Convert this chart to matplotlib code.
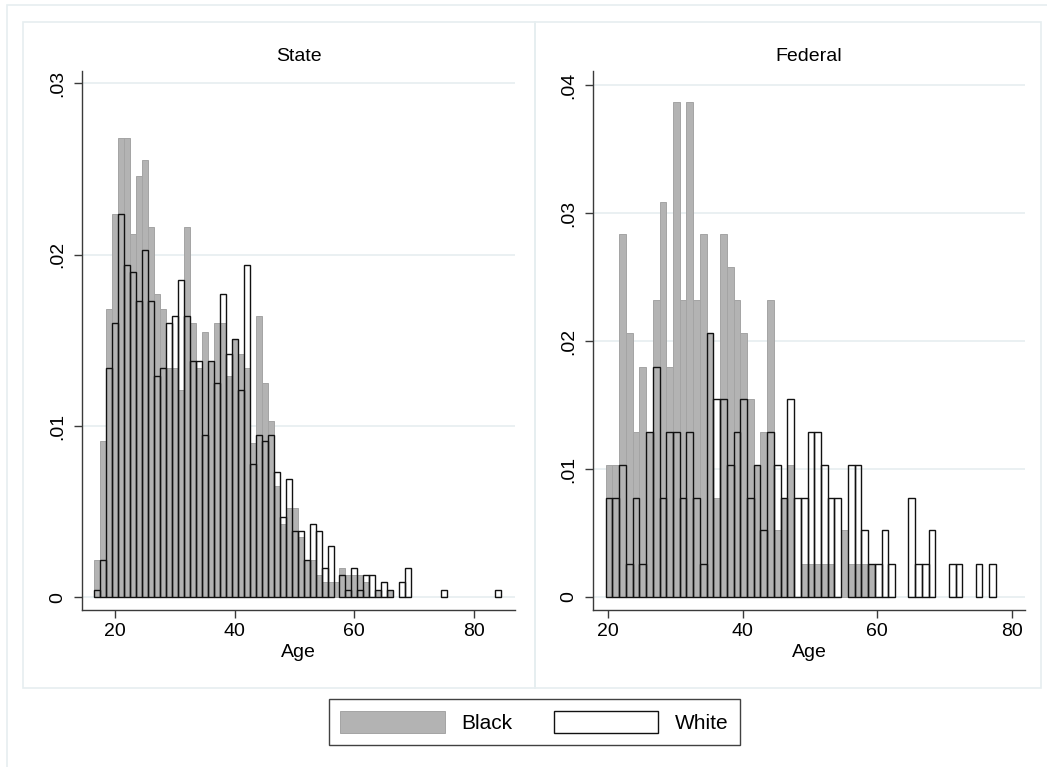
import matplotlib
matplotlib.use('Agg')
import matplotlib.pyplot as plt
from matplotlib.patches import Rectangle
import numpy as np

plt.rcParams['font.family'] = ['Liberation Sans', 'DejaVu Sans']

# ---- data (density per 1-year age bin) ----
state_ages = list(range(17, 85))
state_black = [0.0022, 0.0091, 0.0168, 0.0224, 0.0268, 0.0268, 0.0212, 0.0246,
               0.0255, 0.0216, 0.0177, 0.0168, 0.0134, 0.0134, 0.0121, 0.0216,
               0.0160, 0.0134, 0.0155, 0.0138, 0.0160, 0.0160, 0.0129, 0.0151,
               0.0142, 0.0134, 0.0090, 0.0164, 0.0125, 0.0103, 0.0065, 0.0043,
               0.0052, 0.0052, 0.0035, 0.0022, 0.0022, 0.0013, 0.0009, 0.0009,
               0.0009, 0.0017, 0.0013, 0.0013, 0.0013, 0.0009, 0.0, 0.0004,
               0.0, 0.0004, 0.0, 0.0, 0.0, 0.0, 0.0, 0.0,
               0.0, 0.0, 0.0, 0.0, 0.0, 0.0, 0.0, 0.0,
               0.0, 0.0, 0.0, 0.0]
state_white = [0.0004, 0.0022, 0.0134, 0.0160, 0.0224, 0.0194, 0.0190, 0.0173,
               0.0203, 0.0173, 0.0129, 0.0134, 0.0160, 0.0164, 0.0185, 0.0164,
               0.0138, 0.0138, 0.0095, 0.0138, 0.0125, 0.0177, 0.0142, 0.0151,
               0.0121, 0.0194, 0.0078, 0.0095, 0.0091, 0.0095, 0.0073, 0.0047,
               0.0069, 0.0039, 0.0039, 0.0022, 0.0043, 0.0039, 0.0017, 0.0030,
               0.0, 0.0013, 0.0004, 0.0017, 0.0004, 0.0013, 0.0013, 0.0004,
               0.0009, 0.0004, 0.0, 0.0009, 0.0017, 0.0, 0.0, 0.0,
               0.0, 0.0, 0.0004, 0.0, 0.0, 0.0, 0.0, 0.0,
               0.0, 0.0, 0.0, 0.0004]

fed_ages = list(range(20, 78))
fed_black = [0.0103, 0.0103, 0.0284, 0.0206, 0.0129, 0.0180, 0.0129, 0.0232,
             0.0309, 0.0180, 0.0387, 0.0232, 0.0387, 0.0232, 0.0284, 0.0206,
             0.0077, 0.0284, 0.0258, 0.0232, 0.0206, 0.0155, 0.0103, 0.0129,
             0.0232, 0.0052, 0.0077, 0.0103, 0.0, 0.0026, 0.0026, 0.0026,
             0.0026, 0.0026, 0.0, 0.0052, 0.0026, 0.0026, 0.0026, 0.0026,
             0.0, 0.0, 0.0, 0.0, 0.0, 0.0, 0.0, 0.0,
             0.0, 0.0, 0.0, 0.0, 0.0, 0.0, 0.0, 0.0,
             0.0, 0.0]
fed_white = [0.0077, 0.0077, 0.0103, 0.0026, 0.0077, 0.0026, 0.0129, 0.0180,
             0.0077, 0.0129, 0.0129, 0.0077, 0.0129, 0.0077, 0.0026, 0.0206,
             0.0155, 0.0155, 0.0103, 0.0129, 0.0155, 0.0077, 0.0103, 0.0052,
             0.0129, 0.0103, 0.0077, 0.0155, 0.0077, 0.0077, 0.0129, 0.0129,
             0.0103, 0.0077, 0.0077, 0.0, 0.0103, 0.0103, 0.0052, 0.0026,
             0.0026, 0.0052, 0.0026, 0.0, 0.0, 0.0077, 0.0026, 0.0026,
             0.0052, 0.0, 0.0, 0.0026, 0.0026, 0.0, 0.0, 0.0026,
             0.0, 0.0026]

W, H = 1047, 767
GREY = '#b3b3b3'
GRID = '#e6eef0'
AXC = '#3a3a3a'

fig = plt.figure(figsize=(W / 100, H / 100), dpi=100)


def px_box(left, top, right, bottom):
    return [left / W, 1 - bottom / H, (right - left) / W, (bottom - top) / H]


def frame(left, top, right, bottom):
    x, y, w, h = px_box(left, top, right, bottom)
    fig.add_artist(Rectangle((x, y), w, h, transform=fig.transFigure,
                             fill=False, ec=GRID, lw=1.2))


# outer graph region and the two panel boxes
frame(7, 5, 1060, 780)
frame(23, 22, 535, 688)
frame(535, 22, 1041, 688)


def panel(box, ages, black, white, shift, title, xlim, ylim, yticks, ylabels):
    ax = fig.add_axes(px_box(*box))
    ages = np.array(ages)
    black = np.array(black)
    white = np.array(white)
    kb = black > 0
    kw = white > 0
    hb = ax.bar(ages[kb] + shift, black[kb], width=1.0, align='edge',
                color=GREY, edgecolor='#a4a4a4', lw=0.7, zorder=2, label='Black')
    hw = ax.bar(ages[kw] + shift, white[kw], width=1.0, align='edge',
                facecolor='none', edgecolor='#111111', lw=1.0, zorder=3, label='White')
    ax.set_xlim(*xlim)
    ax.set_ylim(*ylim)
    ax.set_xticks([20, 40, 60, 80])
    ax.set_yticks(yticks)
    ax.set_yticklabels(ylabels, rotation=90, va='center')
    ax.yaxis.grid(True, color=GRID, lw=1.2, zorder=0)
    ax.set_axisbelow(True)
    for s in ['top', 'right']:
        ax.spines[s].set_visible(False)
    for s in ['left', 'bottom']:
        ax.spines[s].set_color(AXC)
        ax.spines[s].set_linewidth(1.0)
    ax.tick_params(axis='both', direction='out', length=5.5, width=1.0,
                   color=AXC, labelsize=14)
    ax.tick_params(axis='y', pad=6)
    ax.tick_params(axis='x', pad=4)
    ax.set_xlabel('Age', fontsize=14, labelpad=3)
    ax.set_title(title, fontsize=14, pad=7)
    return hb, hw


hb, hw = panel((82, 71, 515, 610), state_ages, state_black, state_white, -0.46,
               'State', (14.48, 86.89), (-0.00074, 0.03072),
               [0, 0.01, 0.02, 0.03], ['0', '.01', '.02', '.03'])
panel((593, 71, 1025, 610), fed_ages, fed_black, fed_white, -0.34,
      'Federal', (17.77, 81.99), (-0.00102, 0.0411),
      [0, 0.01, 0.02, 0.03, 0.04], ['0', '.01', '.02', '.03', '.04'])

leg = fig.legend([hb, hw], ['Black', 'White'], loc='center',
                 bbox_to_anchor=(534.5 / W, 1 - 722 / H), ncol=2, fontsize=15,
                 frameon=True, fancybox=False, edgecolor='#111111',
                 handlelength=5.0, handleheight=1.3, handletextpad=0.8,
                 columnspacing=2.0, borderpad=0.55)
leg.get_frame().set_linewidth(1.0)

fig.savefig('out.png', dpi=100)
